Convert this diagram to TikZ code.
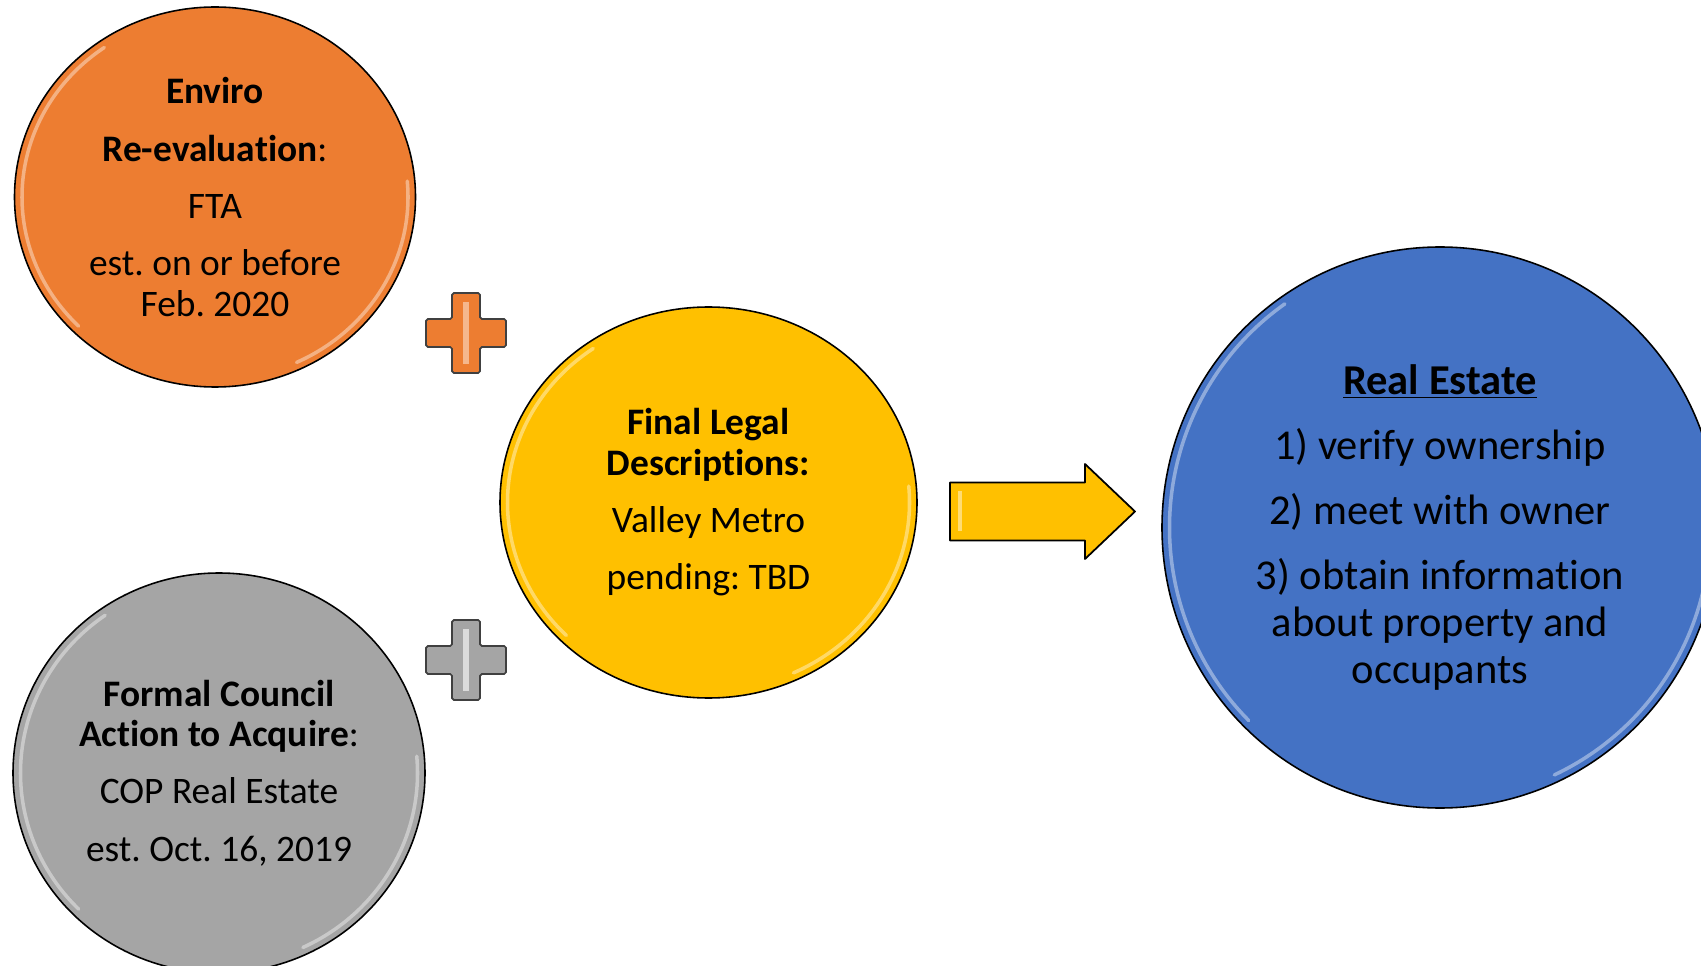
\documentclass[tikz,border=0pt]{standalone}
\usepackage{fontspec}
\setmainfont{Carlito}[Ligatures=NoCommon]
\usetikzlibrary{shapes.geometric,positioning}
\definecolor{orng}{HTML}{ED7D31}
\definecolor{yllw}{HTML}{FFC000}
\definecolor{gry}{HTML}{A5A5A5}
\definecolor{blu}{HTML}{4472C4}
\frenchspacing
\begin{document}
\begin{tikzpicture}[main/.style={draw, ellipse, line width=0.9pt, inner sep=0pt, align=center, font=\fontsize{21.3}{23}\selectfont},
    shine/.style={white, opacity=0.4, line width=2pt, line cap=round},
    plus/.style={draw=black!75, line width=1pt, rounded corners=1pt}]
    \useasboundingbox (0,0) rectangle (34.02,-19.32);

    \node[main, fill=orng, minimum width=8.02cm, minimum height=7.6cm] (1) at (4.30,-3.94)
    {\textbf{Enviro}\\[9.6pt] \textbf{Re-evaluation}:\\[9.6pt] FTA\\[9.6pt] est. on or before\\ Feb. 2020};
    \node[main, fill=gry, minimum width=8.24cm, minimum height=8.0cm] (2) at (4.38,-15.46)
    {\textbf{Formal Council}\\ \textbf{Action to Acquire}:\\[9.6pt] COP Real Estate\\[9.6pt] est. Oct. 16, 2019};
    \node[main, fill=yllw, minimum width=8.34cm, minimum height=7.82cm] (3) at (14.17,-10.05)
    {\textbf{Final Legal}\\ \textbf{Descriptions:}\\[9.6pt] Valley Metro\\[9.6pt] pending: TBD};
    \node[main, fill=blu, minimum width=11.12cm, minimum height=11.22cm, font=\fontsize{24.2}{26.5}\selectfont] (4) at (28.8,-10.55)
    {\textbf{\underline{Real Estate}}\\[10.5pt] 1) verify ownership\\[10.5pt] 2) meet with owner\\[10.5pt] 3) obtain information\\ about property and\\ occupants};

    % bevel highlights
    \foreach \n/\rx/\ry in {1/3.86/3.65, 2/3.97/3.85, 3/4.02/3.76, 4/5.41/5.46} {
        \draw[shine] (\n.center) ++(125:{\rx} and {\ry}) arc[start angle=125, end angle=225, x radius=\rx, y radius=\ry];
        \draw[shine] (\n.center) ++(-65:{\rx} and {\ry}) arc[start angle=-65, end angle=5, x radius=\rx, y radius=\ry];
    }

    \coordinate (5) at (9.32,-6.66);
    \coordinate (6) at (9.32,-13.2);
    \coordinate (7) at (19.0,-10.23);

    \draw[plus, fill=orng] (5) ++(-0.28,0.8) -- ++(0.56,0) -- ++(0,-0.52) -- ++(0.52,0) -- ++(0,-0.56) -- ++(-0.52,0) -- ++(0,-0.52) -- ++(-0.56,0) -- ++(0,0.52) -- ++(-0.52,0) -- ++(0,0.56) -- ++(0.52,0) -- cycle;
    \draw[white, opacity=0.45, line width=3pt] (5) ++(0,0.62) -- ++(0,-1.24);
    \draw[plus, fill=gry] (6) ++(-0.28,0.8) -- ++(0.56,0) -- ++(0,-0.52) -- ++(0.52,0) -- ++(0,-0.56) -- ++(-0.52,0) -- ++(0,-0.52) -- ++(-0.56,0) -- ++(0,0.52) -- ++(-0.52,0) -- ++(0,0.56) -- ++(0.52,0) -- cycle;
    \draw[white, opacity=0.6, line width=3pt] (6) ++(0,0.62) -- ++(0,-1.24);

    \draw[line width=1pt, fill=yllw, line join=round] (7) ++(0,0.58) -- ++(2.7,0) -- ++(0,0.37) -- ++(1.0,-0.95) -- ++(-1.0,-0.95) -- ++(0,0.37) -- ++(-2.7,0) -- cycle;
    \draw[white, opacity=0.45, line width=2pt] (7) ++(0.2,0.4) -- ++(0,-0.8);
\end{tikzpicture}
\end{document}
